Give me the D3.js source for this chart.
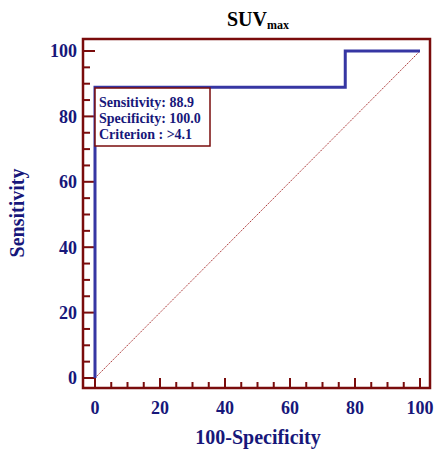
<!DOCTYPE html>
<html>
<head>
<script src="https://cdnjs.cloudflare.com/ajax/libs/d3/7.8.5/d3.min.js"></script>
</head>
<style>
body { margin: 0; background: #fff; }
text { font-family: "Liberation Serif", "Times New Roman", serif; font-weight: bold; }
</style>
<body>
<svg id="chart"></svg>
<script>
// ROC curve points (100-Specificity, Sensitivity)
const fpr = [0, 0, 77, 77, 100];
const tpr = [0, 88.9, 88.9, 100, 100];
const xTicks = [0, 20, 40, 60, 80, 100];
const yTicks = [0, 20, 40, 60, 80, 100];
const legendLines = ["Sensitivity: 88.9", "Specificity: 100.0", "Criterion : >4.1"];

const W = 438, H = 451;
const frameColor = "#7a0c0c", navy = "#17177a", curveColor = "#3636a3";

const svg = d3.select("#chart").attr("width", W).attr("height", H);

const x = d3.scaleLinear().domain([0, 100]).range([95, 420]);
const y = d3.scaleLinear().domain([0, 100]).range([378, 51]);
const frame = { left: 83, top: 39, right: 430, bottom: 388 };

// title
const title = svg.append("text")
  .attr("x", 258).attr("y", 26)
  .attr("text-anchor", "middle")
  .attr("font-size", 20)
  .attr("fill", "#000");
title.append("tspan").text("SUV");
title.append("tspan").attr("font-size", 12).attr("dy", 3).text("max");

// frame
svg.append("rect")
  .attr("x", frame.left).attr("y", frame.top)
  .attr("width", frame.right - frame.left)
  .attr("height", frame.bottom - frame.top)
  .attr("fill", "none")
  .attr("stroke", frameColor)
  .attr("stroke-width", 2.5);

// minor + major ticks
const minor = d3.range(0, 101, 5);
svg.append("g").selectAll("line").data(minor).join("line")
  .attr("x1", frame.left).attr("x2", d => frame.left + (d % 20 === 0 ? 12 : 7))
  .attr("y1", d => y(d)).attr("y2", d => y(d))
  .attr("stroke", frameColor).attr("stroke-width", 2);
svg.append("g").selectAll("line").data(minor).join("line")
  .attr("y1", frame.bottom).attr("y2", d => frame.bottom - (d % 20 === 0 ? 10 : 6))
  .attr("x1", d => x(d)).attr("x2", d => x(d))
  .attr("stroke", frameColor).attr("stroke-width", 2);

// tick labels
svg.append("g").selectAll("text").data(yTicks).join("text")
  .attr("x", 77).attr("y", d => y(d))
  .attr("dy", "0.35em")
  .attr("text-anchor", "end")
  .attr("font-size", 18)
  .attr("fill", navy)
  .text(d => d);
svg.append("g").selectAll("text").data(xTicks).join("text")
  .attr("x", d => x(d)).attr("y", 414)
  .attr("text-anchor", "middle")
  .attr("font-size", 18)
  .attr("fill", navy)
  .text(d => d);

// axis titles
svg.append("text")
  .attr("x", 258).attr("y", 444)
  .attr("text-anchor", "middle")
  .attr("font-size", 20)
  .attr("fill", navy)
  .text("100-Specificity");
svg.append("text")
  .attr("transform", "translate(24,213) rotate(-90)")
  .attr("text-anchor", "middle")
  .attr("font-size", 20)
  .attr("fill", navy)
  .text("Sensitivity");

// diagonal reference line
svg.append("line")
  .attr("x1", x(0)).attr("y1", y(0))
  .attr("x2", x(100)).attr("y2", y(100))
  .attr("stroke", "#a33")
  .attr("stroke-width", 1)
  .attr("stroke-dasharray", "1.5,1");

// ROC curve
const pts = fpr.map((v, i) => [v, tpr[i]]);
svg.append("path")
  .datum(pts)
  .attr("d", d3.line().x(d => x(d[0])).y(d => y(d[1])))
  .attr("fill", "none")
  .attr("stroke", curveColor)
  .attr("stroke-width", 3);

// legend box
const lg = svg.append("g");
lg.append("rect")
  .attr("x", 95).attr("y", 88)
  .attr("width", 115).attr("height", 58)
  .attr("fill", "#fff")
  .attr("stroke", frameColor)
  .attr("stroke-width", 1.5);
lg.selectAll("text").data(legendLines).join("text")
  .attr("x", 99).attr("y", (d, i) => 107 + i * 16)
  .attr("font-size", 14)
  .attr("fill", navy)
  .text(d => d);
</script>
</body>
</html>
